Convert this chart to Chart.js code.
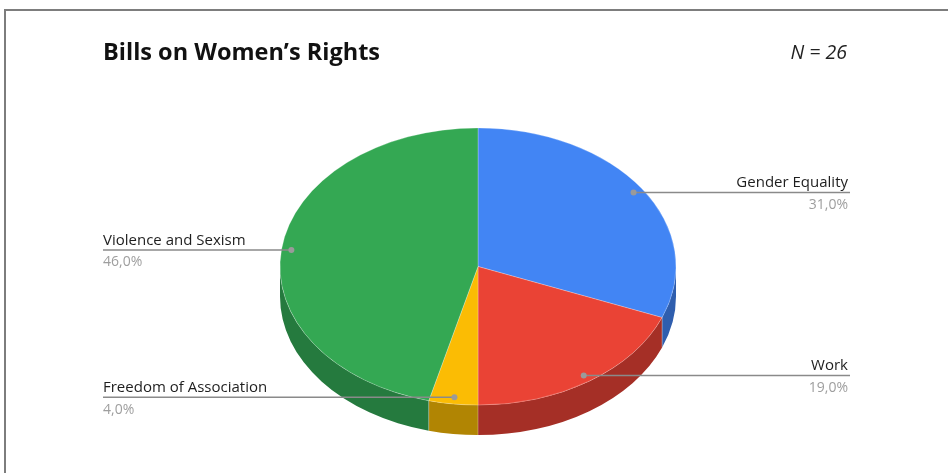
<!DOCTYPE html>
<html>
<head>
<meta charset="utf-8">
<script src="https://cdn.jsdelivr.net/npm/chart.js@4.4.1/dist/chart.umd.min.js"></script>
<style>
  html, body { margin: 0; padding: 0; background: #fff; }
  #wrap { position: relative; width: 948px; height: 473px; overflow: hidden; }
  #frame { position: absolute; left: 4px; top: 9px; width: 960px; height: 480px;
           border-left: 2px solid #7d7d7d; border-top: 2px solid #7d7d7d; }
  canvas { position: absolute; left: 0; top: 0; }
</style>
</head>
<body>
<div id="wrap">
  <div id="frame"></div>
  <canvas id="pie" width="948" height="473"></canvas>
</div>
<script>
const categories = ["Gender Equality", "Work", "Freedom of Association", "Violence and Sexism"];
const shares = [31, 19, 4, 46];
const pieColors = ["#4285f4", "#ea4335", "#fbbc04", "#34a853"];
const sideColors = ["#2f5eae", "#a52f26", "#b18503", "#257a3e"];
const title = "Bills on Women\u2019s Rights";
const sampleNote = "N = 26";

// 3d look: flatten the pie vertically and add a wall underneath
const FONT = "'Open Sans', sans-serif";
const squash = 0.7;
const depth = 30;
const centerY = 266.5;

function toScreenY(y, y0) {
  return centerY + squash * (y - y0);
}

const pie3d = {
  id: "pie3d",
  beforeDatasetsDraw(chart) {
    const ctx = chart.ctx;
    const arcs = chart.getDatasetMeta(0).data;
    ctx.save();
    arcs.forEach((arc, i) => {
      // only the front half of the wall (0..PI) is visible
      const a0 = Math.max(arc.startAngle, 0);
      const a1 = Math.min(arc.endAngle, Math.PI);
      if (a1 <= a0) return;
      const rx = arc.outerRadius, ry = arc.outerRadius * squash;
      ctx.beginPath();
      ctx.ellipse(arc.x, centerY, rx, ry, 0, a0, a1, false);
      ctx.ellipse(arc.x, centerY + depth, rx, ry, 0, a1, a0, true);
      ctx.closePath();
      ctx.fillStyle = sideColors[i];
      ctx.fill();
      // faint seam where two slices meet on the wall
      if (arc.startAngle > 0 && arc.startAngle < Math.PI) {
        const sx = arc.x + rx * Math.cos(arc.startAngle);
        const sy = centerY + ry * Math.sin(arc.startAngle);
        ctx.beginPath();
        ctx.moveTo(sx, sy);
        ctx.lineTo(sx, sy + depth);
        ctx.strokeStyle = "rgba(255,255,255,0.3)";
        ctx.lineWidth = 1;
        ctx.stroke();
      }
    });
    ctx.restore();

    const y0 = arcs[0].y;
    ctx.save();
    ctx.translate(0, centerY);
    ctx.scale(1, squash);
    ctx.translate(0, -y0);
  },
  afterDatasetsDraw(chart) {
    const ctx = chart.ctx;
    ctx.restore();

    const arcs = chart.getDatasetMeta(0).data;
    const total = shares.reduce((a, b) => a + b, 0);
    arcs.forEach((arc, i) => {
      const mid = (arc.startAngle + arc.endAngle) / 2;
      const r = arc.outerRadius * 0.95;
      const px = arc.x + r * Math.cos(mid);
      const py = toScreenY(arc.y + r * Math.sin(mid), arc.y);
      const right = px > arc.x;
      const lx = right ? 850 : 103;

      ctx.beginPath();
      ctx.moveTo(px, py);
      ctx.lineTo(lx, py);
      ctx.strokeStyle = "#8a8a8a";
      ctx.lineWidth = 1.5;
      ctx.stroke();

      ctx.beginPath();
      ctx.arc(px, py, 3, 0, Math.PI * 2);
      ctx.fillStyle = "#9a9a9a";
      ctx.fill();

      ctx.textAlign = right ? "right" : "left";
      ctx.textBaseline = "alphabetic";
      const tx = right ? lx - 2 : lx;
      ctx.font = "15px " + FONT;
      ctx.fillStyle = "#1e1e1e";
      ctx.fillText(categories[i], tx, py - 5);
      ctx.font = "14px " + FONT;
      ctx.fillStyle = "#9e9e9e";
      const pct = (shares[i] / total * 100).toFixed(1).replace(".", ",") + "%";
      ctx.fillText(pct, tx, py + 16.5);
    });

    ctx.textAlign = "left";
    ctx.font = "bold 23.5px " + FONT;
    ctx.fillStyle = "#111";
    ctx.fillText(title, 103, 60);
    ctx.textAlign = "right";
    ctx.font = "italic 19.5px " + FONT;
    ctx.fillStyle = "#222";
    ctx.fillText(sampleNote, 847, 59);
  }
};

new Chart(document.getElementById("pie"), {
  type: "pie",
  plugins: [pie3d],
  data: {
    labels: categories,
    datasets: [{
      data: shares,
      backgroundColor: pieColors,
      borderColor: "rgba(255,255,255,0.3)",
      borderWidth: 1,
      clip: false
    }]
  },
  options: {
    responsive: false,
    animation: false,
    radius: 198,
    layout: { padding: { left: 200, right: 192, top: 38, bottom: 39 } },
    plugins: {
      legend: { display: false },
      tooltip: { enabled: false }
    }
  }
});
</script>
</body>
</html>
